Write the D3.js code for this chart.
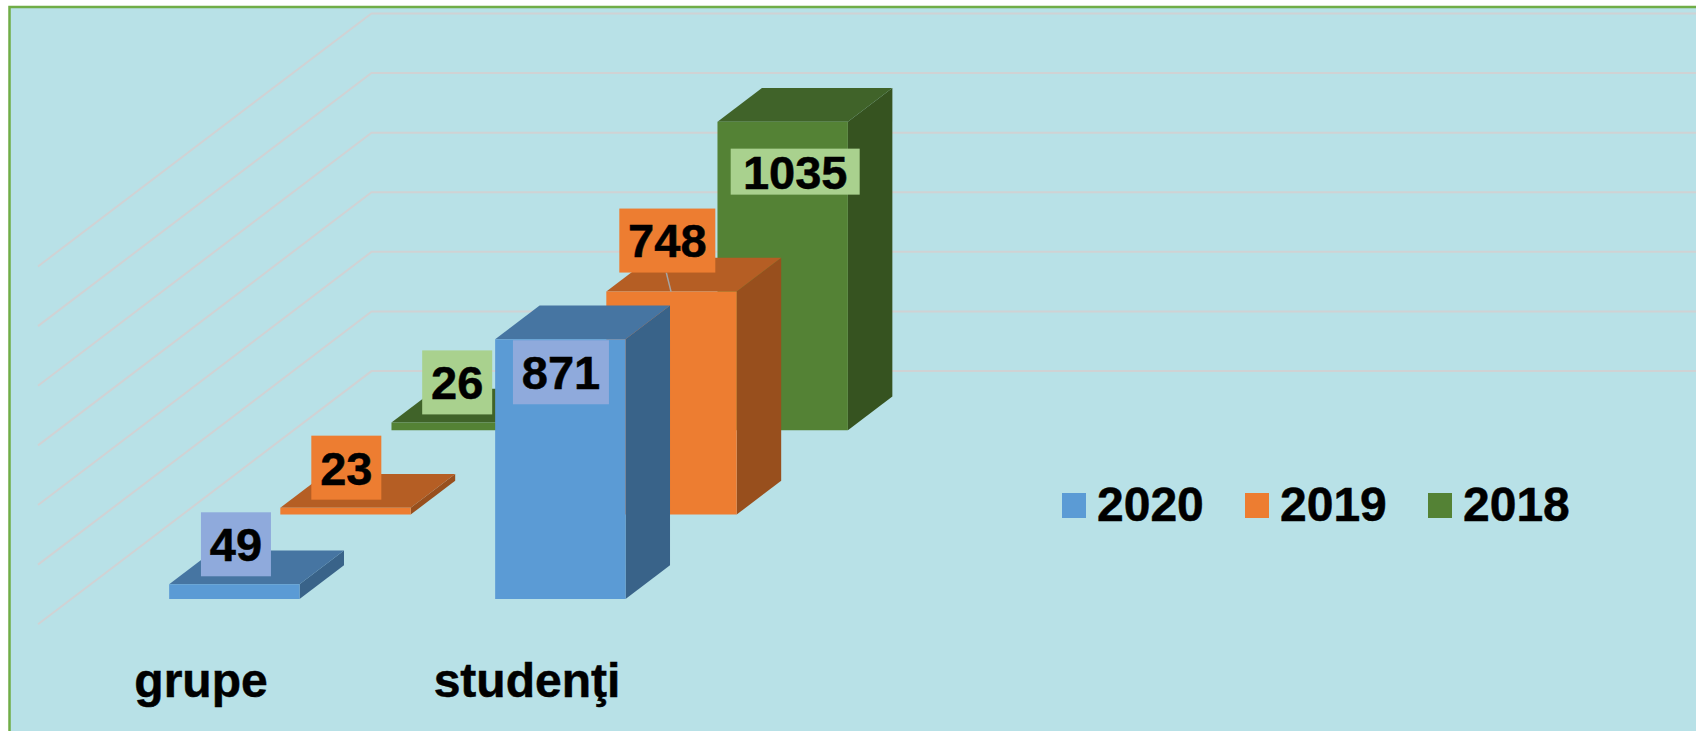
<!DOCTYPE html>
<html lang="ro">
<head>
    <meta charset="utf-8">
    <title>grupe / studenţi</title>
    <script src="https://d3js.org/d3.v7.min.js"></script>
    <style>
        html, body { margin: 0; padding: 0; background: #fff; overflow: hidden; }
        svg { display: block; }
        text { font-family: "Liberation Sans", Arial, sans-serif; font-weight: bold; fill: #000; stroke: #000; stroke-width: 0.5px; }
        .axisx text { font-size: 48px; font-family: "Liberation Sans", Arial, sans-serif; font-weight: bold; }
        .axisx .domain, .axisx line { display: none; }
    </style>
</head>
<body>
    <div id="chart"></div>
    <script>
        // data
        const categories = ["grupe", "studenţi"];
        const series = ["2020", "2019", "2018"];
        const grupeValues = [49, 23, 26];
        const studentiValues = [871, 748, 1035];
        const valueTicks = [0, 200, 400, 600, 800, 1000, 1200];

        const colors = {
            "2020": { front: "#5b9bd5", top: "#4675a2", side: "#396389", label: "#8faadc" },
            "2019": { front: "#ed7d31", top: "#b55e24", side: "#984f1d", label: "#ed7d31" },
            "2018": { front: "#548235", top: "#406329", side: "#365320", label: "#a9d18e" }
        };

        // labels were moved by hand in the original, offsets from the top of each bar
        const labelBoxes = {
            "grupe|2020": { dx: 1.6, dy: -40, w: 70, h: 64 },
            "grupe|2019": { dx: 0.8, dy: -40, w: 70, h: 64 },
            "grupe|2018": { dx: 0.5, dy: -40, w: 70, h: 64 },
            "studenţi|2020": { dx: 0.6, dy: 33, w: 96, h: 64 },
            "studenţi|2019": { dx: -4.2, dy: -51, w: 96, h: 64 },
            "studenţi|2018": { dx: 12.5, dy: 50, w: 129, h: 46 }
        };

        const width = 1696;
        const height = 731;

        // floor corner of the 3d box
        const originX = 38;
        const originY = 624.2;
        const depthX = 333.5;
        const depthY = 253.1;

        const svg = d3.select("#chart")
            .append("svg")
            .attr("width", width)
            .attr("height", height);

        svg.append("rect")
            .attr("x", 9.5)
            .attr("y", 7)
            .attr("width", width + 100)
            .attr("height", height + 100)
            .attr("fill", "#b8e1e7")
            .attr("stroke", "#70ad47")
            .attr("stroke-width", 2.5);

        const xScale = d3.scaleBand()
            .domain(categories)
            .range([0, 652])
            .paddingInner(0.6)
            .paddingOuter(0.3);

        const depthScale = d3.scaleBand()
            .domain(series)
            .range([0, 1])
            .paddingInner(0.6)
            .paddingOuter(0.3);

        const yScale = d3.scaleLinear()
            .domain([0, 1200])
            .range([0, 357.7]);

        // x along the floor, depth 0..1 into the box, value up
        function project(x, depth, value) {
            return [originX + x + depth * depthX, originY - depth * depthY - yScale(value)];
        }

        function polygon(points) {
            return points.map(p => p.join(",")).join(" ");
        }

        // gridlines run up the left wall and along the back wall
        svg.append("g")
            .attr("class", "grid")
            .selectAll("polyline")
            .data(valueTicks)
            .enter()
            .append("polyline")
                .attr("points", d => polygon([project(0, 0, d), project(0, 1, d), project(width, 1, d)]))
                .attr("fill", "none")
                .attr("stroke", "#d0d2d4")
                .attr("stroke-width", 2);

        const bars = [];
        categories.forEach(function(category) {
            const values = category === "grupe" ? grupeValues : studentiValues;
            series.forEach((name, i) => bars.push({ category: category, series: name, value: values[i] }));
        });

        // paint from the back row to the front
        const drawOrder = bars.slice().sort((a, b) =>
            depthScale(b.series) - depthScale(a.series) || xScale(a.category) - xScale(b.category));

        const barGroups = svg.append("g")
            .attr("class", "bars")
            .selectAll("g")
            .data(drawOrder)
            .enter()
            .append("g");

        function corners(d) {
            const x0 = xScale(d.category);
            const x1 = x0 + xScale.bandwidth();
            const z0 = depthScale(d.series);
            const z1 = z0 + depthScale.bandwidth();
            return { x0: x0, x1: x1, z0: z0, z1: z1 };
        }

        barGroups.append("polygon")
            .attr("fill", d => colors[d.series].side)
            .attr("points", function(d) {
                const c = corners(d);
                return polygon([project(c.x1, c.z0, 0), project(c.x1, c.z1, 0), project(c.x1, c.z1, d.value), project(c.x1, c.z0, d.value)]);
            });

        barGroups.append("polygon")
            .attr("fill", d => colors[d.series].top)
            .attr("points", function(d) {
                const c = corners(d);
                return polygon([project(c.x0, c.z0, d.value), project(c.x1, c.z0, d.value), project(c.x1, c.z1, d.value), project(c.x0, c.z1, d.value)]);
            });

        barGroups.append("polygon")
            .attr("fill", d => colors[d.series].front)
            .attr("points", function(d) {
                const c = corners(d);
                return polygon([project(c.x0, c.z0, 0), project(c.x1, c.z0, 0), project(c.x1, c.z0, d.value), project(c.x0, c.z0, d.value)]);
            });

        function labelAnchor(d) {
            const c = corners(d);
            const box = labelBoxes[d.category + "|" + d.series];
            const top = project(c.x0 + xScale.bandwidth() / 2, c.z0, d.value);
            return { topX: top[0], topY: top[1], x: top[0] + box.dx, y: top[1] + box.dy, w: box.w, h: box.h };
        }

        // leader line, only the moved 748 label has one
        svg.append("g")
            .attr("class", "leaders")
            .selectAll("line")
            .data(bars.filter(d => d.value === 748))
            .enter()
            .append("line")
                .attr("x1", d => labelAnchor(d).x - 1)
                .attr("y1", d => labelAnchor(d).y + labelAnchor(d).h / 2)
                .attr("x2", d => labelAnchor(d).topX - 0.5)
                .attr("y2", d => labelAnchor(d).topY)
                .attr("stroke", "#a5a5a5")
                .attr("stroke-width", 1.5);

        const labels = svg.append("g")
            .attr("class", "labels")
            .selectAll("g")
            .data(bars)
            .enter()
            .append("g")
                .attr("transform", d => "translate(" + labelAnchor(d).x + "," + labelAnchor(d).y + ")");

        labels.append("rect")
            .attr("x", d => -labelAnchor(d).w / 2)
            .attr("y", d => -labelAnchor(d).h / 2)
            .attr("width", d => labelAnchor(d).w)
            .attr("height", d => labelAnchor(d).h)
            .attr("fill", d => colors[d.series].label);

        labels.append("text")
            .attr("text-anchor", "middle")
            .attr("dy", "0.36em")
            .attr("font-size", 47)
            .text(d => d.value);

        const xAxis = d3.axisBottom(xScale)
            .tickSize(0)
            .tickPadding(39);

        svg.append("g")
            .attr("class", "axisx")
            .attr("transform", "translate(" + originX + "," + originY + ")")
            .call(xAxis);

        // legend
        const legendScale = d3.scalePoint()
            .domain(series)
            .range([1062, 1428]);

        const legend = svg.append("g")
            .attr("class", "legend")
            .selectAll("g")
            .data(series)
            .enter()
            .append("g")
                .attr("transform", d => "translate(" + legendScale(d) + ",493)");

        legend.append("rect")
            .attr("width", 24)
            .attr("height", 25)
            .attr("fill", d => colors[d].front);

        legend.append("text")
            .attr("x", 35)
            .attr("y", 28)
            .attr("font-size", 48)
            .text(d => d);
    </script>
</body>
</html>
